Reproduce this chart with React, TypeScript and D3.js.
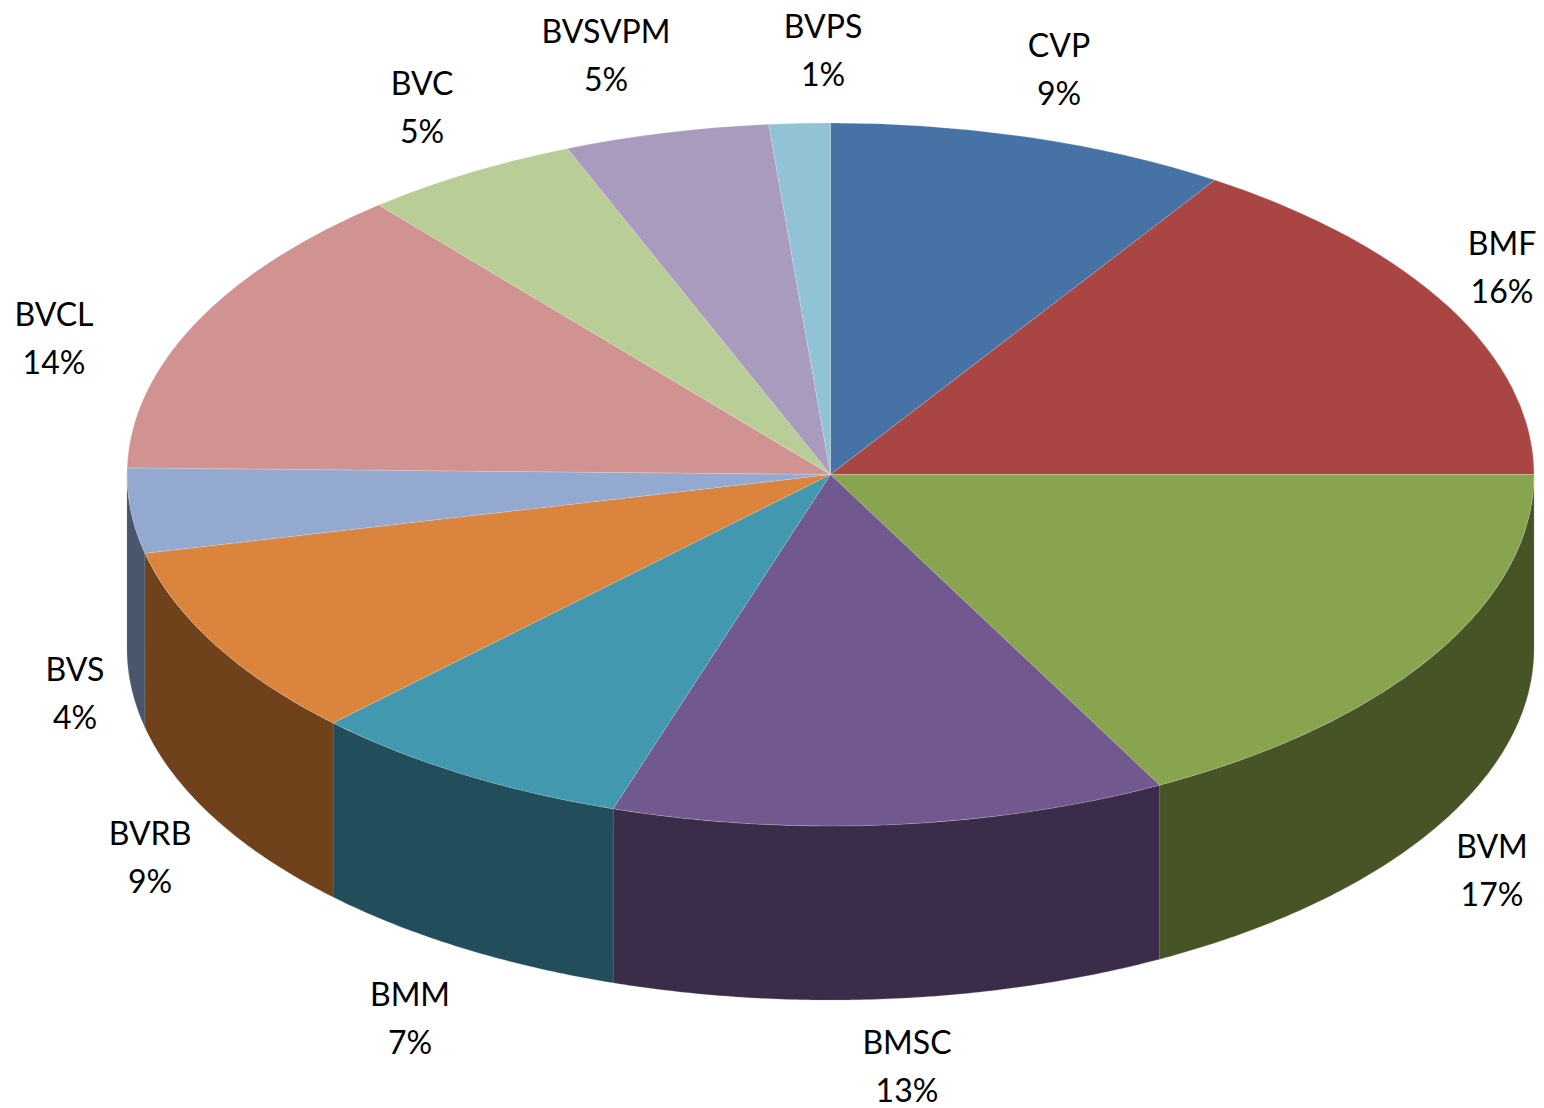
import React from "react";
import * as d3 from "d3";

const categories = ["CVP", "BMF", "BVM", "BMSC", "BMM", "BVRB", "BVS", "BVCL", "BVC", "BVSVPM", "BVPS"];
const values = [9.2, 15.8, 17.25, 12.75, 7.5, 8.9, 3.9, 13.6, 5.0, 4.7, 1.4];
const percentLabels = ["9%", "16%", "17%", "13%", "7%", "9%", "4%", "14%", "5%", "5%", "1%"];
const topColors = ["#4672A6", "#A94644", "#89A44E", "#71588F", "#4298AF", "#DB843D", "#93A9CF", "#D19392", "#B9CD96", "#A99BBD", "#92C3D5"];
const sideColors = ["#2B4665", "#682B2A", "#475426", "#3B2D4A", "#224D5A", "#6F421C", "#4A566B", "#6B4B4A", "#5F6A4B", "#564F61", "#4A646D"];
const labelAnchors: [number, number][] = [
  [1059, 46], [1502, 244], [1492, 847], [907, 1043], [410, 995], [150, 834], [75, 670], [54, 315], [422, 84], [606, 32], [823, 27],
];

const W = 1544, H = 1108, cx = 830.5, cy = 474.5, rx = 703.5, ry = 351.5, depth = 174;
const FONT = "Lato, 'Open Sans', sans-serif";

export default function App() {
  const pie = d3.pie<number>().sort(null).startAngle(0).endAngle(2 * Math.PI);
  const arcs = pie(values);
  const arc = d3.arc<d3.PieArcDatum<number>>().innerRadius(0).outerRadius(rx);
  const yScale = d3.scaleLinear().domain([0, rx]).range([0, ry]);

  const px = (a: number) => cx + rx * Math.sin(a);
  const py = (a: number, off = 0) => cy - yScale(rx * Math.cos(a)) + off;

  const sidePath = (a0: number, a1: number) => {
    const s = Math.max(a0, Math.PI / 2), e = Math.min(a1, (3 * Math.PI) / 2);
    if (e <= s) return null;
    const n = Math.max(2, Math.ceil((e - s) * 120));
    const angles = d3.range(n + 1).map((i) => s + ((e - s) * i) / n);
    const top = angles.map((a) => [px(a), py(a)] as [number, number]);
    const bottom = angles.slice().reverse().map((a) => [px(a), py(a, depth)] as [number, number]);
    return d3.line()([...top, ...bottom]) + "Z";
  };

  return (
    <svg width={W} height={H} viewBox={`0 0 ${W} ${H}`} style={{ position: "absolute", left: 0, top: 0, background: "#fff" }}>
      <g>
        {arcs.map((d, i) => {
          const p = sidePath(d.startAngle, d.endAngle);
          return p ? <path key={i} d={p} fill={sideColors[i]} stroke="#8a8f94" strokeOpacity={0.4} strokeWidth={0.6} /> : null;
        })}
      </g>
      <g transform={`translate(${cx},${cy}) scale(1,${ry / rx})`}>
        {arcs.map((d, i) => (
          <path key={i} d={arc(d) as string} fill={topColors[i]} stroke="#ffffff" strokeOpacity={0.25} strokeWidth={0.6} vectorEffect="non-scaling-stroke" />
        ))}
      </g>
      <g fontFamily={FONT} fontSize={32} fill="#000" textAnchor="middle">
        {categories.map((c, i) => (
          <text key={c} x={labelAnchors[i][0]}>
            <tspan x={labelAnchors[i][0]} y={labelAnchors[i][1] + 11}>{c}</tspan>
            <tspan x={labelAnchors[i][0]} y={labelAnchors[i][1] + 59}>{percentLabels[i]}</tspan>
          </text>
        ))}
      </g>
    </svg>
  );
}
